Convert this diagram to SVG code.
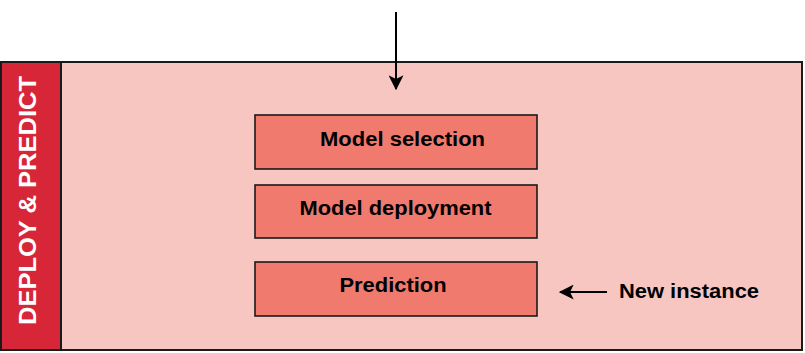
<svg xmlns="http://www.w3.org/2000/svg" width="805" height="353" viewBox="0 0 805 353">
  <defs>
    <marker id="arrow" viewBox="0 0 12 12" refX="11" refY="6" markerWidth="15" markerHeight="15" markerUnits="userSpaceOnUse" orient="auto">
      <path d="M0,0 L12,6 L0,12 L3,6 Z" fill="#000"/>
    </marker>
    <style>
      .panel { fill: #F8C6C0; stroke: #1a1a1a; stroke-width: 2; }
      .band { fill: #D72638; stroke: #1a1a1a; stroke-width: 2; }
      .step { fill: #F07A6D; stroke: #1a1a1a; stroke-width: 1.6; }
      .label { font-family: "Liberation Sans", Arial, sans-serif; font-weight: bold; font-size: 20px; fill: #000; text-anchor: middle; }
      .side { font-family: "Liberation Sans", Arial, sans-serif; font-weight: bold; font-size: 23.5px; fill: #fff; text-anchor: middle; }
      .wire { stroke: #000; stroke-width: 2; fill: none; }
    </style>
  </defs>

  <!-- stage panel with side band -->
  <g id="stage">
    <rect class="panel" x="1" y="62" width="801" height="288"/>
    <rect class="band" x="1" y="62" width="60" height="288"/>
    <text class="side" transform="translate(36,200.5) rotate(-90)" textLength="249" lengthAdjust="spacingAndGlyphs">DEPLOY &amp; PREDICT</text>
  </g>

  <g id="model-selection">
    <rect class="step" x="255" y="115" width="282" height="54"/>
    <text class="label" x="402.5" y="146" textLength="165" lengthAdjust="spacingAndGlyphs">Model selection</text>
  </g>

  <g id="model-deployment">
    <rect class="step" x="255" y="185" width="282" height="53"/>
    <text class="label" x="395.5" y="215" textLength="192" lengthAdjust="spacingAndGlyphs">Model deployment</text>
  </g>

  <g id="prediction">
    <rect class="step" x="255" y="262" width="282" height="54"/>
    <text class="label" x="393" y="292" textLength="107" lengthAdjust="spacingAndGlyphs">Prediction</text>
  </g>

  <g id="new-instance">
    <text class="label" x="689" y="298" textLength="140" lengthAdjust="spacingAndGlyphs">New instance</text>
  </g>

  <g id="connectors">
    <line class="wire" x1="396" y1="12" x2="396" y2="89" marker-end="url(#arrow)"/>
    <line class="wire" x1="607" y1="292" x2="560" y2="292" marker-end="url(#arrow)"/>
  </g>
</svg>
